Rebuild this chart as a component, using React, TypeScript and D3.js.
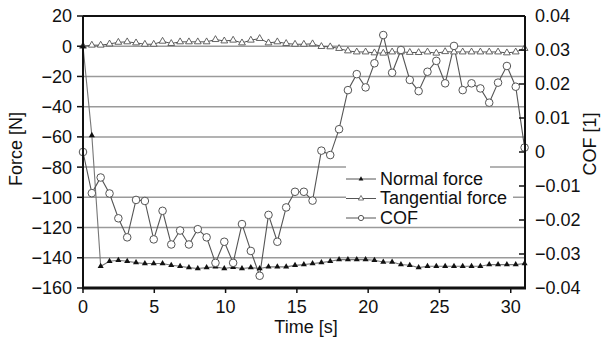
import * as d3 from 'd3';

// sample times [s]
const time = [
  0, 0.62, 1.24, 1.86, 2.48, 3.1, 3.72, 4.34, 4.96, 5.58, 6.19, 6.81, 7.43, 8.05, 8.67, 9.29, 9.91,
  10.53, 11.15, 11.77, 12.39, 13.01, 13.63, 14.25, 14.87, 15.49, 16.1, 16.72, 17.34, 17.96, 18.58,
  19.2, 19.82, 20.44, 21.06, 21.68, 22.3, 22.92, 23.54, 24.16, 24.78, 25.4, 26.02, 26.63, 27.25,
  27.87, 28.49, 29.11, 29.73, 30.35, 30.97,
];

const normalForce = [
  0, -59, -145.6, -142.3, -141.6, -142.3, -143.2, -143.8, -143.8, -143.8, -144.9, -145.6, -146.5,
  -147.1, -146.5, -146, -147.1, -146.2, -147.1, -146.5, -147.1, -146, -146, -146, -145, -144.5,
  -143.8, -143.2, -142.3, -141.2, -141.2, -141.2, -141.2, -141.6, -142.8, -142.8, -144.5, -144.9,
  -146.5, -145.6, -145.6, -145.6, -145.6, -145.6, -145.6, -145.6, -144.5, -144.5, -144.5, -144.5,
  -143.8,
];

const tangentialForce = [
  0, 0.7, 0.7, 1.5, 2.6, 2.9, 2.2, 1.3, 1.3, 3.3, 1.8, 2.9, 2.9, 2.9, 2.9, 4.4, 3.5, 4.0, 2.2, 4.0,
  5.1, 2.2, 2.9, 1.8, 1.3, 1.3, 1.6, -0.2, -0.4, -1.5, -3.1, -3.8, -3.8, -4.4, -4.6, -3.8, -3.8,
  -4.1, -4.2, -3.8, -4.6, -3.6, -3.8, -3.8, -3.8, -3.8, -3.8, -3.8, -4.4, -3.8, -1.5,
];

const cof = [
  0, -0.0121, -0.0075, -0.0122, -0.0195, -0.0251, -0.0141, -0.0144, -0.0257, -0.0173, -0.0272,
  -0.0231, -0.0272, -0.0227, -0.0251, -0.0326, -0.0264, -0.0326, -0.0212, -0.0291, -0.0364,
  -0.0185, -0.0264, -0.0163, -0.0117, -0.0117, -0.0143, 0.0004, -0.0009, 0.0067, 0.0182, 0.0229,
  0.019, 0.0261, 0.0344, 0.0233, 0.03, 0.0212, 0.0179, 0.0236, 0.0268, 0.0202, 0.0312, 0.0182,
  0.0202, 0.0187, 0.0145, 0.0204, 0.0253, 0.0192, 0.0013,
];

const timeTicks = [0, 5, 10, 15, 20, 25, 30];
const forceTicks = [20, 0, -20, -40, -60, -80, -100, -120, -140, -160];
const cofTicks = [0.04, 0.03, 0.02, 0.01, 0, -0.01, -0.02, -0.03, -0.04];
const legendLabels = ['Normal force', 'Tangential force', 'COF'];

const W = 601;
const H = 341;
const margin = { left: 83, right: 76, top: 16, bottom: 53 };
const font = '"Liberation Sans", Arial, Helvetica, sans-serif';
const minus = (s: string) => s.replace('-', '\u2212');

export default function App() {
  const x = d3.scaleLinear().domain([0, 31]).range([margin.left, W - margin.right]);
  const yF = d3.scaleLinear().domain([-160, 20]).range([H - margin.bottom, margin.top]);
  const yC = d3.scaleLinear().domain([-0.04, 0.04]).range([H - margin.bottom, margin.top]);

  const x0 = x(0), x1 = x(31), yTop = yF(20), yBot = yF(-160);

  const lineF = d3.line<number>().x((_, i) => x(time[i])).y((d) => yF(d));
  const lineC = d3.line<number>().x((_, i) => x(time[i])).y((d) => yC(d));

  const triFilled = d3.symbol(d3.symbolTriangle, 16)()!;
  const triOpen = d3.symbol(d3.symbolTriangle, 20)()!;
  const triLegendF = d3.symbol(d3.symbolTriangle, 10)()!;
  const triLegendT = d3.symbol(d3.symbolTriangle, 12)()!;

  const legX = 346;
  const legRows = [179, 198.5, 218];
  const legBoxes = [
    { y: 164, h: 25, w: 144 },
    { y: 189, h: 19, w: 167 },
    { y: 208, h: 17, w: 80 },
  ];

  return (
    <svg width={W} height={H} style={{ position: 'absolute', left: 0, top: 0, background: '#fff' }}
      fontFamily={font}>
      {/* grid */}
      {forceTicks.filter((t) => t > -160 && t < 20).map((t) => (
        <line key={`g${t}`} x1={x0} x2={x1} y1={yF(t)} y2={yF(t)} stroke="#9a9a9a" strokeWidth={1.5} />
      ))}

      {/* legend backgrounds */}
      {legBoxes.map((b, i) => (
        <rect key={`lb${i}`} x={legX} y={b.y} width={b.w} height={b.h} fill="#fff" />
      ))}

      {/* lines */}
      <path d={lineF(normalForce)!} fill="none" stroke="#777" strokeWidth={1.1} />
      <path d={lineF(tangentialForce)!} fill="none" stroke="#555" strokeWidth={1} />
      <path d={lineC(cof)!} fill="none" stroke="#555" strokeWidth={1.1} />

      {/* markers */}
      {tangentialForce.map((d, i) => (
        <path key={`t${i}`} d={triOpen} transform={`translate(${x(time[i])},${yF(d)})`}
          fill="#fff" stroke="#555" strokeWidth={0.9} />
      ))}
      {normalForce.map((d, i) => (
        <path key={`n${i}`} d={triFilled} transform={`translate(${x(time[i])},${yF(d)})`} fill="#111" />
      ))}
      {cof.map((d, i) => (
        <circle key={`c${i}`} cx={x(time[i])} cy={yC(d)} r={3.8} fill="#fff" stroke="#555" strokeWidth={1} />
      ))}

      {/* axes frame */}
      <line x1={x0} x2={x1} y1={yTop} y2={yTop} stroke="#111" strokeWidth={2} />
      <line x1={x0 - 1} x2={x1 + 1} y1={yBot} y2={yBot} stroke="#111" strokeWidth={3} />
      <line x1={x0} x2={x0} y1={yTop} y2={yBot} stroke="#111" strokeWidth={2} />
      <line x1={x1} x2={x1} y1={yTop} y2={yBot} stroke="#111" strokeWidth={2} />

      {/* left ticks */}
      {forceTicks.map((t) => (
        <g key={`lf${t}`}>
          <line x1={x0 - 6} x2={x0} y1={yF(t)} y2={yF(t)} stroke="#111" strokeWidth={1.5} />
          <text x={x0 - 11} y={yF(t)} dy="0.36em" textAnchor="end" fontSize={18} fill="#111">
            {minus(String(t))}
          </text>
        </g>
      ))}

      {/* right ticks */}
      {cofTicks.map((t) => (
        <g key={`rc${t}`}>
          <line x1={x1 - 6} x2={x1} y1={yC(t)} y2={yC(t)} stroke="#111" strokeWidth={1.5} />
          <text x={x1 + 10} y={yC(t)} dy="0.36em" textAnchor="start" fontSize={18} fill="#111">
            {minus(d3.format('.2~f')(t))}
          </text>
        </g>
      ))}

      {/* bottom ticks */}
      {timeTicks.map((t) => (
        <g key={`bt${t}`}>
          <line x1={x(t)} x2={x(t)} y1={yBot} y2={yBot + 5} stroke="#111" strokeWidth={1.5} />
          <text x={x(t)} y={313} textAnchor="middle" fontSize={18} fill="#111">{t}</text>
        </g>
      ))}

      {/* axis titles */}
      <text x={306} y={333} textAnchor="middle" fontSize={18} fill="#111">Time [s]</text>
      <text transform="translate(22,149) rotate(-90)" textAnchor="middle" fontSize={18} fill="#111">Force [N]</text>
      <text transform="translate(596,144) rotate(-90)" textAnchor="middle" fontSize={18} fill="#111">COF [1]</text>

      {/* legend */}
      {legendLabels.map((lab, i) => (
        <g key={lab}>
          <line x1={legX} x2={legX + 30} y1={legRows[i]} y2={legRows[i]} stroke="#555" strokeWidth={1} />
          {i === 0 && <path d={triLegendF} transform={`translate(${legX + 15},${legRows[i]})`} fill="#111" />}
          {i === 1 && (
            <path d={triLegendT} transform={`translate(${legX + 15},${legRows[i]})`} fill="#fff" stroke="#555" strokeWidth={0.8} />
          )}
          {i === 2 && <circle cx={legX + 15} cy={legRows[i]} r={2.6} fill="#fff" stroke="#555" strokeWidth={1} />}
          <text x={legX + 34} y={legRows[i] + 5.5} fontSize={18} fill="#111">{lab}</text>
        </g>
      ))}
    </svg>
  );
}
